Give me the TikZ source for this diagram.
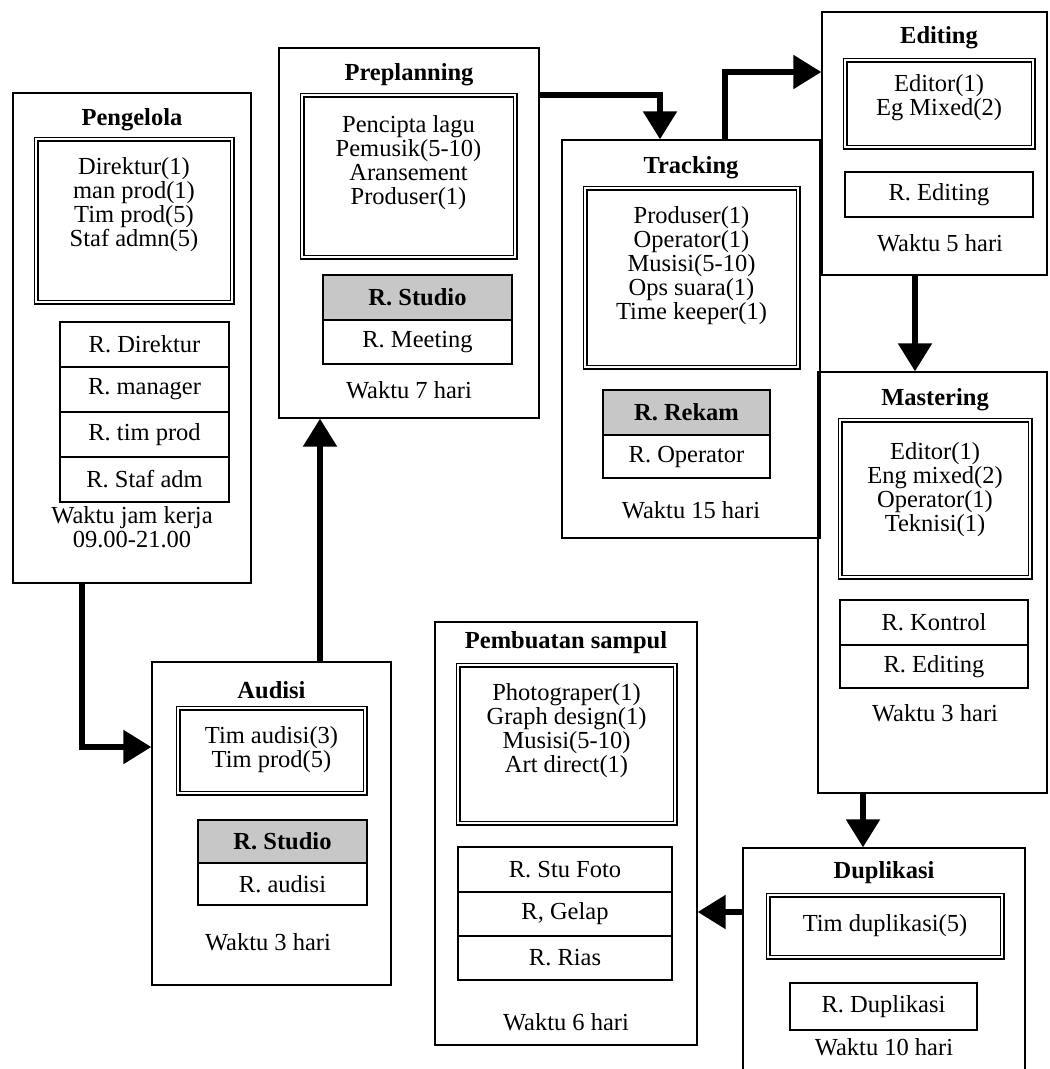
\documentclass[tikz,border=0pt]{standalone}
\usepackage{fontspec}
\setmainfont{Liberation Serif}
\usetikzlibrary{arrows.meta}

\begin{document}
\begin{tikzpicture}[x=1pt,y=-1pt,
  every node/.style={font=\fontsize{24.5}{24}\selectfont, inner sep=0pt},
  stage/.style={draw, line width=1.4pt},
  heading/.style={font=\fontsize{24.5}{24}\selectfont\bfseries},
  crew/.style={draw, double, line width=1.6pt, double distance=1.8pt},
  room/.style={draw, line width=1.4pt},
  busy/.style={room, fill=black!22, font=\fontsize{24.5}{24}\selectfont\bfseries},
  pipe/.style={line width=5.5pt, -{Triangle[length=28pt,width=33pt]}}]
\useasboundingbox (0,0) rectangle (1050,1069);

% Pengelola
\node[stage, minimum width=238pt, minimum height=490pt] (pengelola) at (132,338) {};
\node[heading] (pengelola-t) at (132,120) {Pengelola};
\node[crew, minimum width=196pt, minimum height=163pt] (pengelola-c) at (134,220.5) {};
\node[align=center] (pengelola-s) at (134,205) {Direktur(1)\\man prod(1)\\Tim prod(5)\\Staf admn(5)};
\node[room, minimum width=169pt, minimum height=45pt] (pengelola-r1) at (144.5,344.5) {R. Direktur};
\node[room, minimum width=169pt, minimum height=45pt] (pengelola-r2) at (144.5,389.5) {R. manager};
\node[room, minimum width=169pt, minimum height=45pt] (pengelola-r3) at (144.5,434.5) {R. tim prod};
\node[room, minimum width=169pt, minimum height=45pt] (pengelola-r4) at (144.5,479.5) {R. Staf adm};
\node[align=center] (pengelola-w) at (132,527) {Waktu jam kerja\\09.00-21.00};

% Preplanning
\node[stage, minimum width=260pt, minimum height=370pt] (preplanning) at (409,233) {};
\node[heading] (preplanning-t) at (409,75) {Preplanning};
\node[crew, minimum width=213pt, minimum height=162pt] (preplanning-c) at (408.5,176) {};
\node[align=center] (preplanning-s) at (408.5,163) {Pencipta lagu\\Pemusik(5-10)\\Aransement\\Produser(1)};
\node[busy, minimum width=189pt, minimum height=45pt] (preplanning-r1) at (417.5,297.5) {R. Studio};
\node[room, minimum width=189pt, minimum height=44pt] (preplanning-r2) at (417.5,342) {R. Meeting};
\node (preplanning-w) at (409,390) {Waktu 7 hari};

% Tracking
\node[stage, minimum width=258pt, minimum height=398pt] (tracking) at (691,339) {};
\node[heading] (tracking-t) at (691,168) {Tracking};
\node[crew, minimum width=213pt, minimum height=179pt] (tracking-c) at (691.5,277.5) {};
\node[align=center] (tracking-s) at (691.5,266) {Produser(1)\\Operator(1)\\Musisi(5-10)\\Ops suara(1)\\Time keeper(1)};
\node[busy, minimum width=167pt, minimum height=45pt] (tracking-r1) at (686.5,412.5) {R. Rekam};
\node[room, minimum width=167pt, minimum height=43pt] (tracking-r2) at (686.5,456.5) {R. Operator};
\node (tracking-w) at (691,510) {Waktu 15 hari};

% Editing
\node[stage, minimum width=225pt, minimum height=263pt] (editing) at (934.5,143.5) {};
\node[heading] (editing-t) at (939,38) {Editing};
\node[crew, minimum width=188pt, minimum height=87pt] (editing-c) at (939,103.5) {};
\node[align=center] (editing-s) at (939,98) {Editor(1)\\Eg Mixed(2)};
\node[room, minimum width=188pt, minimum height=45pt] (editing-r1) at (939,194.5) {R. Editing};
\node (editing-w) at (940,243) {Waktu 5 hari};

% Mastering
\node[stage, minimum width=229pt, minimum height=421pt] (mastering) at (932.5,582.5) {};
\node[heading] (mastering-t) at (935,400) {Mastering};
\node[crew, minimum width=190pt, minimum height=157pt] (mastering-c) at (935,498.5) {};
\node[align=center] (mastering-s) at (935,490) {Editor(1)\\Eng mixed(2)\\Operator(1)\\Teknisi(1)};
\node[room, minimum width=188pt, minimum height=45pt] (mastering-r1) at (934,622.5) {R. Kontrol};
\node[room, minimum width=188pt, minimum height=43pt] (mastering-r2) at (934,666.5) {R. Editing};
\node (mastering-w) at (935,713) {Waktu 3 hari};

% Duplikasi
\node[stage, minimum width=282pt, minimum height=232pt] (duplikasi) at (884,964) {};
\node[heading] (duplikasi-t) at (884,873) {Duplikasi};
\node[crew, minimum width=234pt, minimum height=62pt] (duplikasi-c) at (885,926) {Tim duplikasi(5)};
\node[room, minimum width=187pt, minimum height=47pt] (duplikasi-r1) at (883.5,1006.5) {R. Duplikasi};
\node (duplikasi-w) at (884,1047) {Waktu 10 hari};

% Pembuatan sampul
\node[stage, minimum width=262pt, minimum height=423pt] (sampul) at (566,833.5) {};
\node[heading] (sampul-t) at (566,643) {Pembuatan sampul};
\node[crew, minimum width=217pt, minimum height=158pt] (sampul-c) at (566.5,744) {};
\node[align=center] (sampul-s) at (566.5,731) {Photograper(1)\\Graph design(1)\\Musisi(5-10)\\Art direct(1)};
\node[room, minimum width=214pt, minimum height=45pt] (sampul-r1) at (565,869.5) {R. Stu Foto};
\node[room, minimum width=214pt, minimum height=44pt] (sampul-r2) at (565,914) {R, Gelap};
\node[room, minimum width=214pt, minimum height=44pt] (sampul-r3) at (565,958) {R. Rias};
\node (sampul-w) at (566,1022) {Waktu 6 hari};

% Audisi
\node[stage, minimum width=239pt, minimum height=323pt] (audisi) at (271.5,823.5) {};
\node[heading] (audisi-t) at (271.5,690) {Audisi};
\node[crew, minimum width=187pt, minimum height=85pt] (audisi-c) at (271.5,750.5) {};
\node[align=center] (audisi-s) at (271.5,749.5) {Tim audisi(3)\\Tim prod(5)};
\node[busy, minimum width=169pt, minimum height=43pt] (audisi-r1) at (282.5,841.5) {R. Studio};
\node[room, minimum width=169pt, minimum height=42pt] (audisi-r2) at (282.5,884) {R. audisi};
\node (audisi-w) at (268,942) {Waktu 3 hari};

% alur
\draw[pipe] ([xshift=-50pt]pengelola.south) |- ([yshift=76.5pt]audisi.west);
\draw[pipe] ([xshift=48.5pt]audisi.north) -- ([xshift=-89pt]preplanning.south);
\draw[pipe] ([yshift=138pt]preplanning.east) -| ([xshift=-31pt]tracking.north);
\draw[pipe] ([xshift=34pt]tracking.north) |- ([yshift=71.5pt]editing.west);
\draw[pipe] ([xshift=-19.5pt]editing.south) -- ([xshift=-17.5pt]mastering.north);
\draw[pipe] ([xshift=-69.5pt]mastering.south) -- ([xshift=-21pt]duplikasi.north);
\draw[pipe] ([yshift=52pt]duplikasi.west) -- ([yshift=-78.5pt]sampul.east);
\end{tikzpicture}
\end{document}
